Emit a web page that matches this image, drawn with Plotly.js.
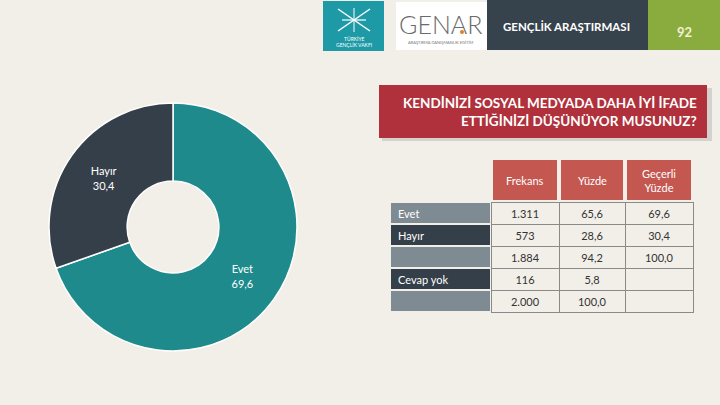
<!DOCTYPE html>
<html>
<head>
<meta charset="utf-8">
<script src="https://cdn.plot.ly/plotly-3.0.1.min.js"></script>
<style>html,body{margin:0;padding:0;background:#f2efe9;}#chart{width:720px;height:405px;}</style>
</head>
<body>
<div id="chart"></div>
<script>
// ---- data ----
const sliceLabels = ['Evet', 'Hayır'];
const sliceValues = [69.6, 30.4];
const rowLabels = ['Evet', 'Hayır', '', 'Cevap yok', ''];
const colHeaders = ['', 'Frekans', 'Yüzde', 'Geçerli<br>Yüzde'];
const frekans = [1311, 573, 1884, 116, 2000];
const yuzde = [65.6, 28.6, 94.2, 5.8, 100.0];
const gecerliYuzde = [69.6, 30.4, 100.0, null, null];
const titleText = 'KENDİNİZİ SOSYAL MEDYADA DAHA İYİ İFADE<br>ETTİĞİNİZİ DÜŞÜNÜYOR MUSUNUZ?';
const headerText = 'GENÇLİK ARAŞTIRMASI';
const pageNo = '92';

// ---- helpers ----
const W = 720, H = 405;
const px = x => x / W;
const py = y => 1 - y / H;
const fmtInt = v => String(v).replace(/\B(?=(\d{3})+(?!\d))/g, '.');
const fmtDec = v => (v === null || v === undefined) ? '' : v.toFixed(1).replace('.', ',');
const BG = '#f2efe9';
const FONT = 'Lato, "Open Sans", sans-serif';

const pie = {
  type: 'pie',
  labels: sliceLabels,
  values: sliceValues,
  customdata: sliceValues.map(fmtDec),
  texttemplate: '%{label}<br>%{customdata}',
  textposition: 'inside',
  insidetextorientation: 'horizontal',
  textfont: {family: FONT, size: 11, color: '#ffffff'},
  hole: 0.37,
  sort: false,
  direction: 'clockwise',
  rotation: 0,
  marker: {colors: ['#1f8a8b', '#343f49'], line: {color: '#ffffff', width: 1.5}},
  domain: {x: [px(49), px(297)], y: [py(351), py(103)]},
  showlegend: false,
  hoverinfo: 'none'
};

// table geometry
const tX0 = 390, tTop = 202, headTop = 160, headBot = 200, emptyHeadH = 16;
const colW = [101, 68, 66, 68];
const edges = colW.reduce((a, w) => { a.push(a[a.length - 1] + w); return a; }, [tX0]);

const gray = '#7f8b93', dark = '#343f49';
const labelFill = rowLabels.map((_, i) => i % 2 === 0 ? gray : dark);
const table = {
  type: 'table',
  domain: {x: [px(edges[0]), px(edges[edges.length - 1])], y: [py(340), py(tTop - emptyHeadH)]},
  columnwidth: colW,
  header: {values: [], height: 0, fill: {color: 'rgba(0,0,0,0)'}, line: {color: 'rgba(0,0,0,0)', width: 0}},
  cells: {
    values: [rowLabels, frekans.map(fmtInt), yuzde.map(fmtDec), gecerliYuzde.map(fmtDec)],
    height: 22,
    align: ['left', 'center', 'center', 'center'],
    fill: {color: [labelFill, 'rgba(0,0,0,0)', 'rgba(0,0,0,0)', 'rgba(0,0,0,0)']},
    line: {color: [BG, '#8a8a8a', '#8a8a8a', '#8a8a8a'], width: [2, 1, 1, 1]},
    font: {family: FONT, size: 11, color: ['#ffffff', '#333333', '#333333', '#333333']}
  }
};

const rect = (x0, y0, x1, y1, color, layer) => ({
  type: 'rect', xref: 'paper', yref: 'paper',
  x0: px(x0), x1: px(x1), y0: py(y1), y1: py(y0),
  fillcolor: color, line: {width: 0}, layer: layer || 'below'
});
const seg = (x0, y0, x1, y1, color, w) => ({
  type: 'line', xref: 'paper', yref: 'paper',
  x0: px(x0), x1: px(x1), y0: py(y0), y1: py(y1),
  line: {color: color, width: w}, layer: 'above'
});
const ann = (x, y, text, size, color, opts) => Object.assign({
  xref: 'paper', yref: 'paper', x: px(x), y: py(y), text: text, showarrow: false,
  xanchor: 'center', yanchor: 'middle',
  font: {family: FONT, size: size, color: color}
}, opts || {});

const shapes = [
  rect(323, 1, 384, 51, '#1d9aa6'),
  seg(338, 9, 370, 31, '#ffffff', 1.5),
  seg(370, 9, 338, 31, '#ffffff', 1.5),
  seg(342, 20, 366, 20, '#ffffff', 1.2),
  seg(354, 8, 354, 32, '#ffffff', 1),
  rect(396, 2, 488, 50, '#ffffff'),
  {type: 'circle', xref: 'paper', yref: 'paper', x0: px(460), x1: px(464), y0: py(34), y1: py(30), fillcolor: '#e07b2a', line: {width: 0}},
  rect(487, 0, 648, 50, '#37434c'),
  rect(648, 0, 720, 50, '#8aab3d'),
  rect(382, 88, 712, 141, 'rgba(0,0,0,0.12)'),
  rect(379, 85, 707, 138, '#b0313b')
];

const annotations = [
  ann(354, 39, 'TÜRKİYE', 5, '#ffffff'),
  ann(354, 45, 'GENÇLİK VAKFI', 5, '#ffffff'),
  ann(440, 24, 'GENAR', 25, '#6a6a6a', {font: {family: FONT, size: 25, color: '#6a6a6a', weight: 300}}),
  ann(441, 42, 'ARAŞTIRMA DANIŞMANLIK EĞİTİM', 4, '#777777'),
  ann(566, 26, '<b>' + headerText + '</b>', 11.5, '#ffffff'),
  ann(684, 32, '<b>' + pageNo + '</b>', 13, '#f4f1d6'),
  ann(699, 112, '<b>' + titleText + '</b>', 13.5, '#ffffff', {xanchor: 'right', align: 'right'})
];

// table header cells (from colHeaders)
colHeaders.forEach((h, i) => {
  if (!h) return;
  shapes.push(rect(edges[i] + 2, headTop, edges[i + 1] - 2, headBot, '#c4574f'));
  annotations.push(ann((edges[i] + edges[i + 1]) / 2, (headTop + headBot) / 2, h, 11, '#ffffff'));
});

const layout = {
  width: W, height: H,
  margin: {l: 0, r: 0, t: 0, b: 0},
  paper_bgcolor: BG,
  plot_bgcolor: BG,
  showlegend: false,
  shapes: shapes,
  annotations: annotations
};

Plotly.newPlot('chart', [pie, table], layout, {displayModeBar: false, staticPlot: true});
</script>
</body>
</html>
